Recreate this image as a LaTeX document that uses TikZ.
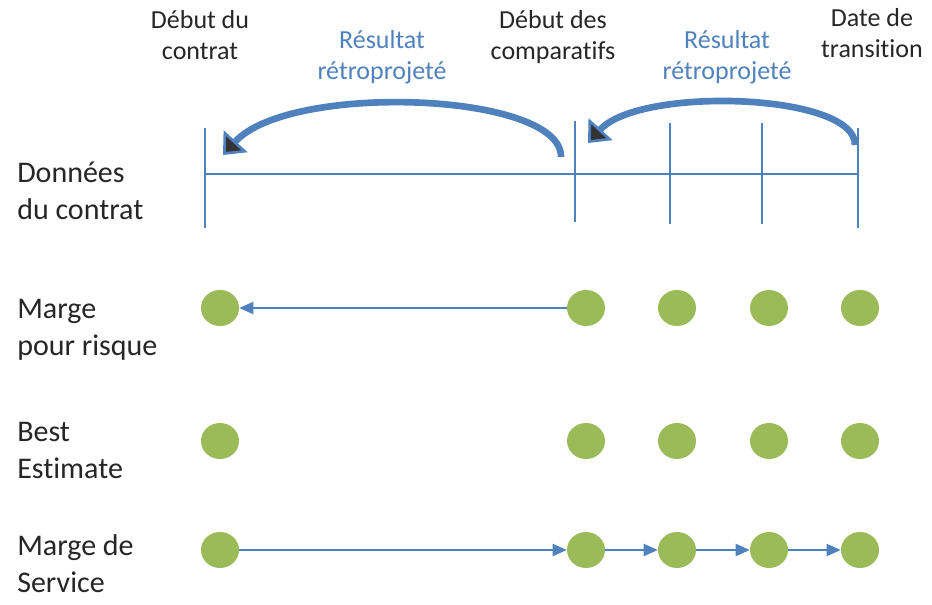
\documentclass[tikz,border=0pt]{standalone}
\usepackage{fontspec}
\setmainfont[Ligatures=NoCommon]{Carlito}
\usetikzlibrary{arrows.meta,shapes.geometric}
\definecolor{lineblue}{HTML}{4F81BD}
\definecolor{dotgreen}{HTML}{9BBB59}
\definecolor{txt}{HTML}{262626}
\begin{document}
\begin{tikzpicture}[x=0.75pt,y=-0.75pt,
  tick/.style={draw=lineblue, line width=1.5pt},
  dot/.style={ellipse, fill=dotgreen, draw=none, minimum width=28.5pt, minimum height=27pt, inner sep=0pt},
  conn/.style={draw=lineblue, line width=1.5pt, -{Triangle[length=10.5pt,width=9pt]}},
  bigarrow/.style={draw=lineblue, line width=5pt, -{Triangle[length=14pt,width=24pt,line width=2pt,fill=black!80]}},
  rowlabel/.style={anchor=west, align=left, inner sep=0pt, font=\fontsize{22.5}{27.75}\selectfont, text=txt},
  toplabel/.style={align=center, inner sep=0pt, font=\fontsize{19.5}{23.25}\selectfont, text=txt},
  bluelabel/.style={toplabel, text=lineblue}]
\useasboundingbox (0,0) rectangle (932,605);

% timeline
\coordinate (t1a) at (205,128); \coordinate (t1b) at (205,228);
\coordinate (t2a) at (575,121); \coordinate (t2b) at (575,222);
\coordinate (t3a) at (670,123); \coordinate (t3b) at (670,224);
\coordinate (t4a) at (762,123); \coordinate (t4b) at (762,224);
\coordinate (t5a) at (858,128); \coordinate (t5b) at (858,228);
\coordinate (hl) at (205,174); \coordinate (hr) at (858,174);
\draw[tick] (t1a) -- (t1b);
\draw[tick] (t2a) -- (t2b);
\draw[tick] (t3a) -- (t3b);
\draw[tick] (t4a) -- (t4b);
\draw[tick] (t5a) -- (t5b);
\draw[tick] (hl) -- (hr);

% curved arrows
\coordinate (c1s) at (561,157); \coordinate (c1e) at (223,155);
\coordinate (c2s) at (855,145); \coordinate (c2e) at (588,143);
\draw[bigarrow] (c1s) .. controls (562,92) and (290,82) .. (c1e);
\draw[bigarrow] (c2s) .. controls (856,93) and (640,86) .. (c2e);

% top labels
\node[toplabel] (l1) at (200,35.5) {Début du\\contrat};
\node[bluelabel] (l2) at (382,57.5) {Résultat\\rétroprojeté};
\node[toplabel] (l3) at (553,37) {Début des\\comparatifs};
\node[bluelabel] (l4) at (727,57.5) {Résultat\\rétroprojeté};
\node[toplabel] (l5) at (872,33.5) {Date de\\transition};

% row labels
\node[rowlabel] (r1) at (17,190.5) {Données\\du contrat};
\node[rowlabel] (r2) at (17,329.5) {Marge\\pour risque};
\node[rowlabel] (r3) at (17,450) {Best\\Estimate};
\node[rowlabel] (r4) at (17,564) {Marge de\\Service};

% dots
\foreach \i/\x in {1/220,2/586,3/677,4/769,5/860} {
  \node[dot] (m\i) at (\x,308) {};
  \node[dot] (b\i) at (\x,441) {};
  \node[dot] (s\i) at (\x,550) {};
}

% connectors
\draw[conn] (m2) -- (m1);
\draw[conn] (s1) -- (s2);
\draw[conn] (s2) -- (s3);
\draw[conn] (s3) -- (s4);
\draw[conn] (s4) -- (s5);
\end{tikzpicture}
\end{document}
